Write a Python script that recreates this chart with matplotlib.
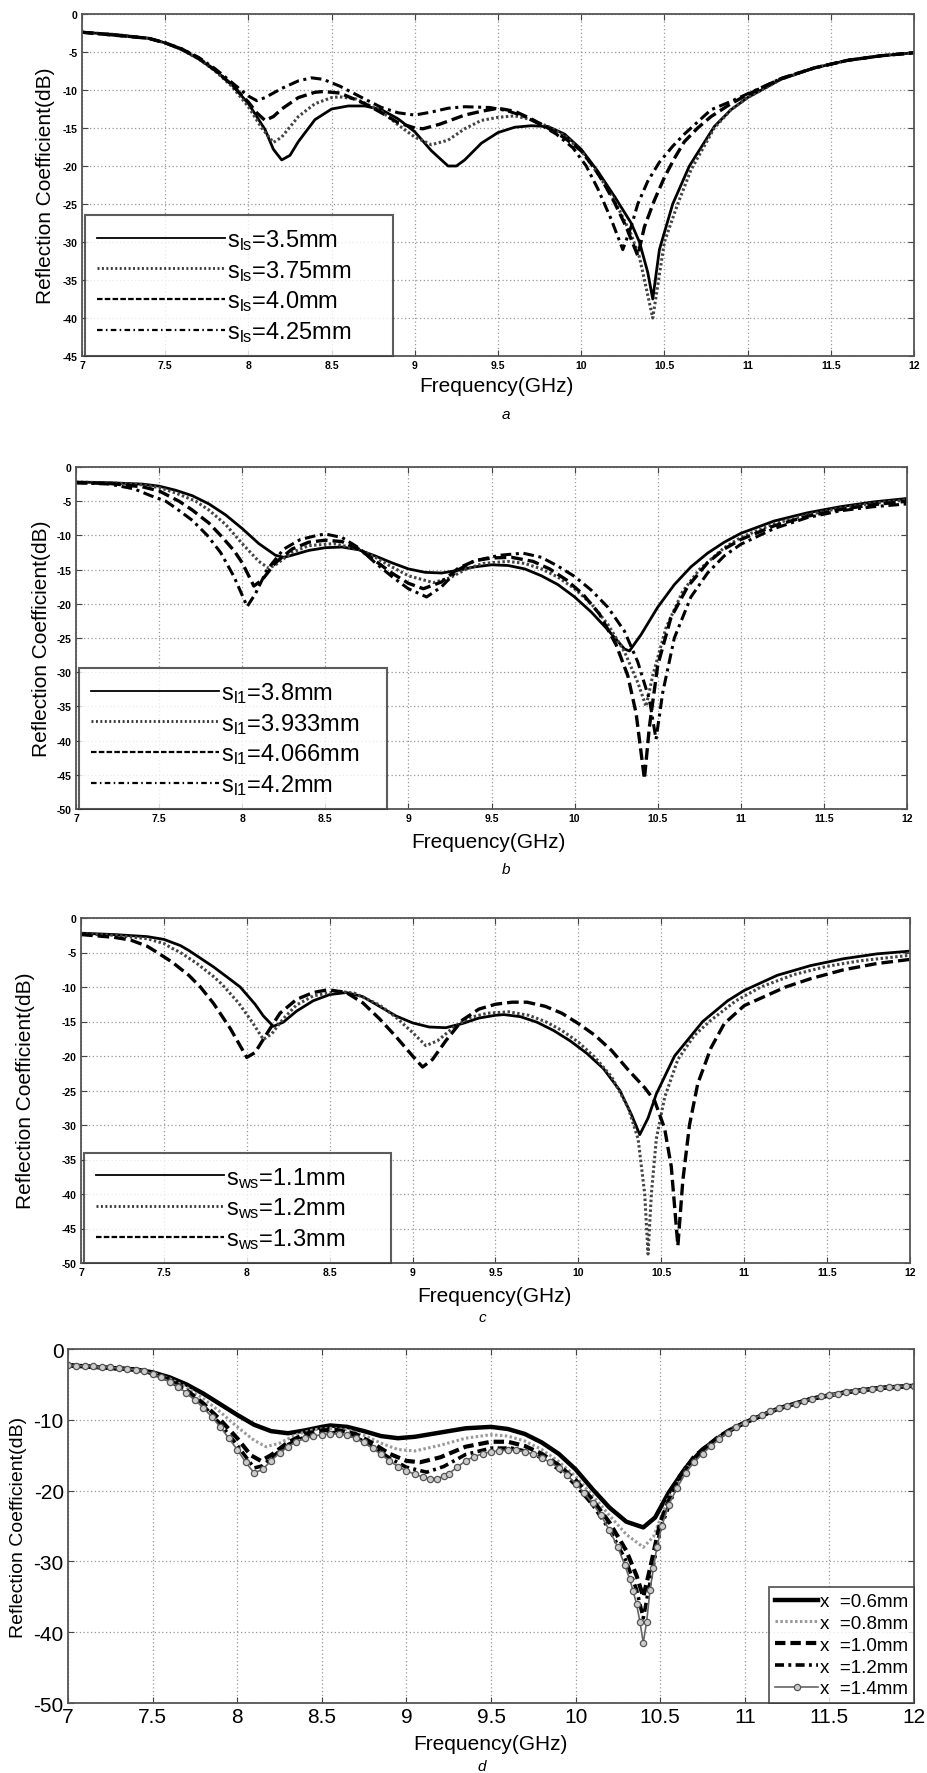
import matplotlib
matplotlib.use('Agg')
import matplotlib.pyplot as plt
from matplotlib.lines import Line2D
from matplotlib.ticker import MultipleLocator, FormatStrFormatter

# ---------------- panel a : slot s_ls ----------------
a_f1 = [7.0, 7.2, 7.4, 7.5, 7.6, 7.7, 7.8, 7.9, 8.0, 8.1, 8.15, 8.2, 8.25, 8.3, 8.4, 8.5, 8.6, 8.7, 8.8, 8.9,
        9.0, 9.1, 9.2, 9.25, 9.3, 9.4, 9.5, 9.6, 9.7, 9.8, 9.9, 10.0, 10.1, 10.2, 10.3, 10.35, 10.4, 10.43,
        10.47, 10.55, 10.65, 10.8, 10.9, 11.0, 11.2, 11.4, 11.6, 11.8, 12.0]
a_s1 = [-2.4, -2.7, -3.2, -3.8, -4.7, -5.9, -7.4, -9.3, -11.8, -15.2, -17.8, -19.2, -18.6, -16.8, -13.9, -12.5,
        -12.1, -12.1, -12.6, -13.8, -15.5, -18.0, -20.0, -20.0, -19.2, -17.0, -15.6, -14.9, -14.7, -14.8, -15.8,
        -17.8, -20.7, -24.0, -27.5, -30.0, -34.0, -37.5, -31.0, -25.0, -20.0, -14.8, -12.6, -11.0, -8.6, -7.1,
        -6.1, -5.5, -5.1]
a_f2 = [7.0, 7.2, 7.4, 7.5, 7.6, 7.7, 7.8, 7.9, 8.0, 8.08, 8.15, 8.2, 8.3, 8.4, 8.5, 8.55, 8.65, 8.8, 8.9, 9.0,
        9.1, 9.2, 9.3, 9.4, 9.5, 9.6, 9.7, 9.8, 9.9, 10.0, 10.1, 10.2, 10.3, 10.35, 10.43, 10.5, 10.58,
        10.66, 10.8, 10.9, 11.0, 11.2, 11.4, 11.6, 11.8, 12.0]
a_s2 = [-2.4, -2.7, -3.2, -3.8, -4.7, -5.9, -7.5, -9.5, -12.2, -15.0, -16.9, -16.2, -13.5, -11.8, -11.0, -10.9,
        -11.2, -12.8, -14.6, -16.2, -17.2, -16.6, -15.1, -14.0, -13.6, -13.4, -13.9, -14.8, -16.0, -18.0, -21.0,
        -24.5, -29.0, -32.0, -40.0, -30.0, -25.0, -20.5, -15.0, -12.6, -11.0, -8.6, -7.1, -6.1, -5.5, -5.1]
a_f3 = [7.0, 7.4, 7.5, 7.6, 7.7, 7.8, 7.9, 8.0, 8.05, 8.1, 8.15, 8.2, 8.3, 8.4, 8.45, 8.55, 8.7, 8.8, 8.9, 9.0,
        9.05, 9.15, 9.3, 9.4, 9.5, 9.6, 9.7, 9.8, 9.9, 10.0, 10.07, 10.13, 10.2, 10.27, 10.34, 10.38, 10.44,
        10.5, 10.56, 10.62, 10.7, 10.78, 10.9, 11.0, 11.2, 11.4, 11.6, 11.8, 12.0]
a_s3 = [-2.4, -3.2, -3.8, -4.6, -5.8, -7.4, -9.3, -11.6, -13.0, -14.0, -13.5, -12.5, -11.0, -10.3, -10.2, -10.4,
        -11.8, -13.0, -14.3, -15.0, -15.1, -14.5, -13.3, -12.8, -12.4, -12.8, -13.8, -15.0, -16.3, -18.0, -20.0,
        -22.0, -24.8, -28.0, -31.8, -28.0, -24.5, -21.5, -19.0, -16.8, -15.0, -13.5, -11.8, -10.6, -8.5, -7.1,
        -6.1, -5.5, -5.1]
a_f4 = [7.0, 7.4, 7.5, 7.6, 7.7, 7.8, 7.9, 8.0, 8.05, 8.1, 8.2, 8.3, 8.38, 8.45, 8.55, 8.7, 8.8, 8.9, 9.0, 9.1,
        9.2, 9.3, 9.45, 9.55, 9.65, 9.75, 9.85, 9.95, 10.03, 10.1, 10.18, 10.25, 10.3, 10.34, 10.4, 10.47,
        10.55, 10.62, 10.7, 10.78, 10.9, 11.0, 11.2, 11.4, 11.6, 11.8, 12.0]
a_s4 = [-2.4, -3.2, -3.8, -4.6, -5.7, -7.2, -9.0, -10.8, -11.4, -11.0, -9.8, -8.8, -8.4, -8.6, -9.5, -11.2,
        -12.3, -13.0, -13.3, -12.9, -12.4, -12.2, -12.3, -12.7, -13.4, -14.5, -15.8, -17.6, -20.0, -23.0, -27.0,
        -31.0, -28.0, -25.0, -22.0, -19.5, -17.4, -15.8, -14.2, -12.6, -11.5, -10.5, -8.5, -7.1, -6.1, -5.5, -5.1]

# ---------------- panel b : slot s_l1 ----------------
b_f1 = [7.0, 7.2, 7.4, 7.5, 7.6, 7.7, 7.8, 7.9, 8.0, 8.1, 8.2, 8.25, 8.3, 8.4, 8.5, 8.6, 8.7, 8.8, 8.9, 9.0,
        9.1, 9.2, 9.3, 9.4, 9.5, 9.6, 9.7, 9.8, 9.9, 10.0, 10.1, 10.2, 10.3, 10.33, 10.4, 10.5, 10.6, 10.7,
        10.8, 10.9, 11.0, 11.2, 11.4, 11.6, 11.8, 12.0]
b_s1 = [-2.2, -2.3, -2.5, -2.8, -3.4, -4.2, -5.4, -7.0, -9.0, -11.2, -12.9, -13.2, -12.9, -12.2, -11.8, -11.7,
        -12.1, -13.0, -14.0, -14.9, -15.4, -15.5, -15.1, -14.6, -14.3, -14.4, -14.9, -15.9, -17.2, -19.0, -21.2,
        -23.8, -26.6, -26.9, -24.5, -20.5, -17.2, -14.6, -12.6, -11.0, -9.7, -7.9, -6.7, -5.8, -5.1, -4.6]
b_f2 = [7.0, 7.2, 7.4, 7.5, 7.6, 7.72, 7.8, 7.9, 7.95, 8.0, 8.1, 8.16, 8.2, 8.3, 8.4, 8.55, 8.7, 8.8, 8.9, 9.0,
        9.15, 9.25, 9.35, 9.45, 9.6, 9.7, 9.8, 9.9, 10.0, 10.1, 10.2, 10.3, 10.38, 10.43, 10.47, 10.55, 10.65,
        10.75, 10.9, 11.0, 11.2, 11.4, 11.6, 11.8, 12.0]
b_s2 = [-2.2, -2.3, -2.6, -3.0, -3.8, -5.0, -6.3, -8.4, -9.8, -11.2, -13.8, -14.8, -14.3, -12.5, -11.5, -11.2,
        -12.0, -13.2, -14.6, -15.9, -16.9, -16.2, -14.9, -14.1, -13.8, -14.1, -14.9, -16.1, -17.8, -20.0, -23.0,
        -27.0, -31.5, -35.0, -30.5, -23.5, -18.2, -15.0, -11.8, -10.3, -8.3, -7.0, -6.0, -5.3, -4.8]
b_f3 = [7.0, 7.2, 7.4, 7.5, 7.62, 7.7, 7.8, 7.87, 7.95, 8.0, 8.07, 8.12, 8.2, 8.3, 8.4, 8.5, 8.6, 8.7, 8.8, 8.9,
        9.0, 9.09, 9.2, 9.3, 9.4, 9.5, 9.62, 9.75, 9.85, 9.95, 10.05, 10.15, 10.25, 10.32, 10.37, 10.42, 10.45,
        10.5, 10.58, 10.68, 10.8, 10.9, 11.0, 11.2, 11.4, 11.6, 11.8, 12.0]
b_s3 = [-2.3, -2.4, -2.9, -3.5, -5.0, -6.3, -8.2, -10.0, -12.2, -14.0, -17.4, -16.5, -14.0, -12.0, -11.0, -10.7,
        -10.9, -12.0, -13.7, -15.5, -17.0, -17.8, -16.8, -14.8, -13.7, -13.3, -13.2, -13.8, -14.9, -16.5, -18.6,
        -21.5, -26.0, -30.5, -36.0, -45.6, -38.0, -29.0, -22.0, -17.5, -14.0, -12.0, -10.6, -8.6, -7.2, -6.2,
        -5.5, -5.0]
b_f4 = [7.0, 7.2, 7.35, 7.45, 7.54, 7.6, 7.7, 7.79, 7.87, 7.95, 8.03, 8.08, 8.15, 8.25, 8.35, 8.45, 8.5, 8.6,
        8.7, 8.8, 8.9, 9.0, 9.11, 9.2, 9.3, 9.4, 9.55, 9.69, 9.8, 9.9, 10.0, 10.1, 10.2, 10.3, 10.38, 10.45,
        10.49, 10.53, 10.6, 10.7, 10.8, 10.9, 11.0, 11.2, 11.4, 11.6, 11.8, 12.0]
b_s4 = [-2.3, -2.5, -3.2, -4.2, -5.0, -6.0, -7.8, -10.0, -12.5, -16.0, -20.4, -18.5, -15.0, -12.0, -10.6, -10.0,
        -9.8, -10.3, -11.8, -14.0, -16.0, -17.8, -19.0, -17.5, -15.0, -13.7, -12.9, -12.6, -13.2, -14.5, -16.0,
        -18.0, -20.5, -24.0, -28.5, -34.0, -39.8, -33.0, -25.0, -19.0, -15.5, -13.0, -11.3, -9.0, -7.4, -6.4,
        -5.8, -5.4]

# ---------------- panel c : slot s_ws ----------------
c_f1 = [7.0, 7.2, 7.4, 7.5, 7.6, 7.65, 7.7, 7.8, 7.9, 7.96, 8.05, 8.1, 8.16, 8.22, 8.3, 8.4, 8.5, 8.6, 8.7, 8.8,
        8.9, 9.0, 9.1, 9.2, 9.3, 9.4, 9.5, 9.55, 9.65, 9.75, 9.85, 9.95, 10.05, 10.15, 10.25, 10.32, 10.37,
        10.42, 10.47, 10.58, 10.75, 10.9, 11.0, 11.2, 11.4, 11.6, 11.8, 12.0]
c_s1 = [-2.2, -2.4, -2.7, -3.1, -4.0, -4.7, -5.5, -7.1, -8.9, -10.0, -12.5, -14.2, -15.7, -15.1, -13.5, -12.0,
        -11.1, -10.8, -11.4, -12.8, -14.2, -15.2, -15.8, -15.9, -15.3, -14.5, -14.1, -14.0, -14.3, -15.1, -16.3,
        -17.8, -19.6, -21.8, -25.0, -28.5, -31.4, -29.0, -25.5, -20.0, -15.0, -12.0, -10.5, -8.3, -6.9, -5.9,
        -5.2, -4.8]
c_f2 = [7.0, 7.2, 7.4, 7.5, 7.55, 7.6, 7.7, 7.8, 7.85, 7.95, 8.03, 8.1, 8.15, 8.22, 8.3, 8.4, 8.55, 8.65, 8.8,
        8.9, 9.0, 9.08, 9.15, 9.25, 9.35, 9.45, 9.58, 9.7, 9.8, 9.9, 10.0, 10.1, 10.2, 10.3, 10.36, 10.4, 10.42,
        10.44, 10.47, 10.52, 10.6, 10.7, 10.8, 10.95, 11.1, 11.3, 11.5, 11.7, 12.0]
c_s2 = [-2.3, -2.5, -3.0, -3.7, -4.4, -5.0, -6.6, -8.5, -9.6, -12.3, -15.0, -17.6, -16.8, -14.6, -12.6, -11.3,
        -10.6, -10.9, -12.6, -14.4, -16.6, -18.5, -17.8, -15.8, -14.4, -13.8, -13.6, -14.1, -15.0, -16.3, -18.0,
        -20.2, -23.0, -27.5, -32.0, -40.0, -48.7, -40.0, -32.0, -26.0, -20.5, -17.0, -14.8, -12.0, -10.0, -8.2,
        -7.0, -6.2, -5.4]
c_f3 = [7.0, 7.2, 7.3, 7.4, 7.46, 7.55, 7.65, 7.72, 7.8, 7.9, 8.0, 8.05, 8.12, 8.2, 8.3, 8.4, 8.49, 8.6, 8.7, 8.8,
        8.9, 9.0, 9.06, 9.12, 9.2, 9.3, 9.4, 9.5, 9.6, 9.69, 9.8, 9.9, 10.0, 10.1, 10.2, 10.3, 10.4, 10.46,
        10.52, 10.56, 10.6, 10.63, 10.67, 10.72, 10.8, 10.88, 11.0, 11.25, 11.4, 11.6, 11.8, 12.0]
c_s3 = [-2.4, -2.8, -3.2, -4.1, -5.0, -6.4, -8.3, -10.0, -12.4, -16.0, -20.2, -19.5, -16.8, -13.8, -11.8, -10.8,
        -10.4, -10.8, -12.3, -14.6, -17.2, -20.0, -21.6, -20.5, -17.8, -14.8, -13.2, -12.5, -12.2, -12.2, -12.8,
        -13.8, -15.3, -17.0, -19.2, -22.0, -24.6, -26.5, -30.5, -36.0, -47.5, -38.0, -30.0, -24.0, -18.8, -15.3,
        -12.7, -10.0, -8.8, -7.5, -6.6, -6.0]

# ---------------- panel d : x ----------------
d_f1 = [7.0, 7.2, 7.4, 7.5, 7.6, 7.7, 7.8, 7.9, 8.0, 8.05, 8.1, 8.2, 8.3, 8.4, 8.5, 8.55, 8.65, 8.75, 8.85, 8.95,
        9.05, 9.2, 9.35, 9.5, 9.6, 9.7, 9.8, 9.9, 10.0, 10.1, 10.2, 10.3, 10.4, 10.47, 10.55, 10.65, 10.75, 10.9,
        11.0, 11.2, 11.4, 11.6, 11.8, 12.0]
d_s1 = [-2.3, -2.6, -2.9, -3.3, -4.0, -5.0, -6.3, -7.8, -9.3, -10.0, -10.7, -11.6, -11.9, -11.5, -11.0, -10.8,
        -11.0, -11.6, -12.3, -12.6, -12.4, -11.8, -11.2, -11.0, -11.3, -12.0, -13.2, -14.8, -17.0, -19.8, -22.4,
        -24.4, -25.2, -23.8, -20.3, -16.8, -14.2, -11.6, -10.4, -8.4, -7.0, -6.1, -5.5, -5.2]
d_f2 = [7.0, 7.4, 7.5, 7.6, 7.7, 7.8, 7.9, 8.0, 8.1, 8.17, 8.25, 8.35, 8.45, 8.55, 8.65, 8.75, 8.85, 8.95, 9.05,
        9.2, 9.35, 9.5, 9.6, 9.7, 9.8, 9.9, 10.0, 10.1, 10.2, 10.3, 10.4, 10.46, 10.55, 10.65, 10.75, 10.9, 11.0,
        11.2, 11.4, 11.6, 11.8, 12.0]
d_s2 = [-2.3, -2.9, -3.4, -4.2, -5.4, -7.0, -8.9, -11.0, -12.9, -13.8, -13.3, -12.1, -11.4, -11.2, -11.4, -12.2,
        -13.3, -14.2, -14.4, -13.6, -12.6, -12.1, -12.3, -13.0, -14.2, -15.9, -18.0, -20.7, -23.5, -26.2, -28.0,
        -26.5, -21.0, -17.0, -14.3, -11.6, -10.4, -8.4, -7.0, -6.1, -5.5, -5.2]
d_f3 = [7.0, 7.4, 7.5, 7.6, 7.7, 7.8, 7.9, 8.0, 8.08, 8.14, 8.2, 8.3, 8.4, 8.5, 8.58, 8.7, 8.8, 8.9, 9.0, 9.08,
        9.2, 9.35, 9.5, 9.6, 9.7, 9.8, 9.9, 10.0, 10.1, 10.2, 10.3, 10.36, 10.4, 10.44, 10.5, 10.6, 10.7, 10.85,
        11.0, 11.2, 11.4, 11.6, 11.8, 12.0]
d_s3 = [-2.3, -2.9, -3.4, -4.4, -5.8, -7.7, -10.0, -12.6, -15.0, -15.8, -15.0, -13.2, -12.0, -11.5, -11.4, -12.0,
        -13.3, -14.8, -15.8, -16.0, -15.3, -13.8, -13.1, -13.1, -13.7, -14.8, -16.4, -18.5, -21.3, -24.5, -28.5,
        -32.0, -35.0, -31.0, -24.5, -18.5, -15.2, -12.3, -10.4, -8.4, -7.0, -6.1, -5.5, -5.2]
d_f4 = [7.0, 7.4, 7.5, 7.6, 7.7, 7.8, 7.9, 8.0, 8.1, 8.15, 8.22, 8.3, 8.4, 8.5, 8.58, 8.7, 8.8, 8.9, 9.0, 9.12,
        9.22, 9.35, 9.5, 9.62, 9.72, 9.8, 9.9, 10.0, 10.1, 10.2, 10.3, 10.36, 10.4, 10.44, 10.5, 10.6, 10.7,
        10.85, 11.0, 11.2, 11.4, 11.6, 11.8, 12.0]
d_s4 = [-2.3, -2.9, -3.5, -4.5, -6.0, -8.0, -10.6, -13.6, -16.8, -16.5, -15.0, -13.5, -12.4, -11.9, -11.8, -12.4,
        -13.8, -15.4, -16.7, -17.4, -16.6, -14.9, -14.0, -14.0, -14.5, -15.4, -17.0, -19.2, -22.0, -25.5, -30.0,
        -34.0, -38.0, -33.0, -25.5, -19.0, -15.5, -12.4, -10.4, -8.4, -7.0, -6.1, -5.5, -5.2]
d_f5 = [7.0, 7.05, 7.1, 7.15, 7.2, 7.25, 7.3, 7.35, 7.4, 7.45, 7.5, 7.55, 7.6, 7.65, 7.7, 7.75, 7.8, 7.85, 7.9,
        7.95, 8.0, 8.05, 8.1, 8.15, 8.2, 8.25, 8.3, 8.35, 8.4, 8.45, 8.5, 8.55, 8.6, 8.65, 8.7, 8.75, 8.8, 8.85,
        8.9, 8.95, 9.0, 9.05, 9.1, 9.14, 9.18, 9.22, 9.25, 9.3, 9.35, 9.4, 9.45, 9.5, 9.55, 9.6, 9.65, 9.7, 9.75,
        9.8, 9.85, 9.9, 9.95, 10.0, 10.05, 10.1, 10.15, 10.2, 10.25, 10.29, 10.32, 10.34, 10.36, 10.38, 10.4,
        10.42, 10.44, 10.46, 10.48, 10.51, 10.55, 10.6, 10.65, 10.7, 10.75, 10.8, 10.85, 10.9, 10.95, 11.0,
        11.05, 11.1, 11.15, 11.2, 11.25, 11.3, 11.35, 11.4, 11.45, 11.5, 11.55, 11.6, 11.65, 11.7, 11.75, 11.8,
        11.85, 11.9, 11.95, 12.0]
d_s5 = [-2.3, -2.35, -2.4, -2.45, -2.5, -2.6, -2.7, -2.8, -2.9, -3.1, -3.5, -4.0, -4.6, -5.3, -6.2, -7.2, -8.3,
        -9.6, -11.0, -12.6, -14.2, -16.0, -17.5, -17.0, -15.8, -14.7, -13.8, -13.1, -12.6, -12.3, -12.1, -12.0,
        -12.0, -12.2, -12.6, -13.2, -14.0, -14.9, -15.8, -16.6, -17.2, -17.7, -18.1, -18.3, -18.3, -18.0, -17.6,
        -16.7, -15.8, -15.2, -14.8, -14.5, -14.4, -14.3, -14.3, -14.5, -14.9, -15.4, -16.0, -16.8, -17.8, -19.0,
        -20.3, -21.8, -23.5, -25.6, -28.0, -30.5, -32.5, -34.2, -36.0, -38.5, -41.5, -38.5, -34.0, -31.0, -28.0,
        -25.0, -22.0, -19.6, -17.5, -16.0, -14.8, -13.7, -12.7, -11.8, -11.0, -10.4, -9.8, -9.3, -8.8, -8.4,
        -8.0, -7.7, -7.3, -7.0, -6.7, -6.5, -6.3, -6.1, -5.9, -5.8, -5.6, -5.5, -5.4, -5.3, -5.25, -5.2]

labels_a = [r'$\mathregular{s_{ls}}$=3.5mm', r'$\mathregular{s_{ls}}$=3.75mm',
            r'$\mathregular{s_{ls}}$=4.0mm', r'$\mathregular{s_{ls}}$=4.25mm']
labels_b = [r'$\mathregular{s_{l1}}$=3.8mm', r'$\mathregular{s_{l1}}$=3.933mm',
            r'$\mathregular{s_{l1}}$=4.066mm', r'$\mathregular{s_{l1}}$=4.2mm']
labels_c = [r'$\mathregular{s_{ws}}$=1.1mm', r'$\mathregular{s_{ws}}$=1.2mm', r'$\mathregular{s_{ws}}$=1.3mm']
labels_d = ['x  =0.6mm', 'x  =0.8mm', 'x  =1.0mm', 'x  =1.2mm', 'x  =1.4mm']

W, H = 928, 1774
plt.rcParams['font.family'] = ['Liberation Sans', 'DejaVu Sans']
plt.rcParams['mathtext.fontset'] = 'custom'
plt.rcParams['mathtext.rm'] = 'Liberation Sans'

# line styles for the panels with 3-4 curves (a, b, c)
STYLES_ABC = [
    dict(color='black', lw=2.0, ls='-'),
    dict(color='#444444', lw=2.2, ls=(0, (0.8, 0.8))),
    dict(color='black', lw=2.4, ls=(0, (3.5, 1.5))),
    dict(color='black', lw=2.2, ls=(0, (3.5, 1.5, 1, 1.5))),
]
# thinner versions for the legend handles (the figure legend uses fine patterns)
LEGEND_ABC = [
    dict(color='black', lw=1.3, ls='-'),
    dict(color='#333333', lw=2.0, ls=(0, (0.7, 0.9))),
    dict(color='black', lw=1.6, ls=(0, (2.5, 1.0))),
    dict(color='black', lw=1.6, ls=(0, (2.5, 1.5, 0.7, 1.5))),
]
STYLES_D = [
    dict(color='black', lw=3.2, ls='-'),
    dict(color='#999999', lw=2.2, ls=(0, (0.8, 0.8))),
    dict(color='black', lw=3.0, ls=(0, (2.5, 1.2))),
    dict(color='black', lw=2.6, ls=(0, (2.5, 1.2, 0.8, 1.2))),
    dict(color='#666666', lw=1.2, ls='-', marker='o', ms=4.5, mfc='#cccccc', mec='#555555', mew=0.9),
]


def px_rect(left, top, right, bottom):
    return [left / W, 1 - bottom / H, (right - left) / W, (bottom - top) / H]


def draw_panel(fig, box, curves, styles, y_low, y_step, big=False):
    ax = fig.add_axes(px_rect(*box))
    for (f, s), st in zip(curves, styles):
        ax.plot(f, s, **st)
    ax.set_xlim(7, 12)
    ax.set_ylim(y_low, 0)
    ax.xaxis.set_major_locator(MultipleLocator(0.5))
    ax.yaxis.set_major_locator(MultipleLocator(y_step))
    ax.xaxis.set_major_formatter(FormatStrFormatter('%g'))
    ax.yaxis.set_major_formatter(FormatStrFormatter('%g'))
    ax.grid(True, color='#999999', ls=(0, (1, 2)), lw=0.9)
    ax.tick_params(direction='in', top=True, right=True, length=4, color='#444444')
    for sp in ax.spines.values():
        sp.set_color('#555555')
        sp.set_linewidth(1.3)
    if big:
        ax.tick_params(labelsize=15, pad=3)
    else:
        ax.tick_params(labelsize=7.5, pad=3)
        for t in ax.get_xticklabels() + ax.get_yticklabels():
            t.set_fontweight('bold')
    return ax


def abc_legend(ax, labels, width):
    handles = [Line2D([], [], **st) for st in LEGEND_ABC[:len(labels)]]
    leg = ax.legend(handles, labels, loc='lower left', bbox_to_anchor=(0.004, 0.0, width, 0.5), mode='expand',
                    fontsize=17, frameon=True, fancybox=False, edgecolor='#333333', handlelength=5.4,
                    handletextpad=0.1, labelspacing=0.25, borderpad=0.5, borderaxespad=0)
    leg.get_frame().set_linewidth(1.5)
    return leg


def main():
    fig = plt.figure(figsize=(W / 100, H / 100), dpi=100)

    # panel a
    ax = draw_panel(fig, (82, 15, 914, 357),
                    [(a_f1, a_s1), (a_f2, a_s2), (a_f3, a_s3), (a_f4, a_s4)],
                    STYLES_ABC, -45, 5)
    abc_legend(ax, labels_a, 0.37)

    # panel b
    ax = draw_panel(fig, (76, 468, 907, 810),
                    [(b_f1, b_s1), (b_f2, b_s2), (b_f3, b_s3), (b_f4, b_s4)],
                    STYLES_ABC, -50, 5)
    abc_legend(ax, labels_b, 0.37)

    # panel c
    ax = draw_panel(fig, (81, 919, 910, 1264),
                    [(c_f1, c_s1), (c_f2, c_s2), (c_f3, c_s3)],
                    STYLES_ABC[:3], -50, 5)
    abc_legend(ax, labels_c, 0.37)

    # panel d
    ax = draw_panel(fig, (68, 1350, 914, 1704),
                    [(d_f1, d_s1), (d_f2, d_s2), (d_f3, d_s3), (d_f4, d_s4), (d_f5, d_s5)],
                    STYLES_D, -50, 10, big=True)
    leg = ax.legend(labels_d, loc='lower right', fontsize=13.5, frameon=True, fancybox=False,
                    edgecolor='#333333', handlelength=2.3, handletextpad=0.1, labelspacing=0.25,
                    borderpad=0.3, borderaxespad=0)
    leg.get_frame().set_linewidth(1.3)

    # axis titles and sub-figure captions placed in pixel coordinates
    texts = [
        (46, 186, 496, 386, 506, 415, 'a', 15),
        (42, 639, 488, 843, 506, 870, 'b', 15),
        (26, 1091, 494, 1296, 482, 1318, 'c', 15),
        (19, 1527, 490, 1745, 482, 1767, 'd', 14),
    ]
    for yx, yy, xx, xy, cx, cy, cap, ysize in texts:
        fig.text(yx / W, 1 - yy / H, 'Reflection Coefficient(dB)', rotation=90, ha='center', va='center',
                 fontsize=ysize)
        fig.text(xx / W, 1 - xy / H, 'Frequency(GHz)', ha='center', va='center', fontsize=15)
        fig.text(cx / W, 1 - cy / H, cap, ha='center', va='center', fontsize=11, style='italic')

    fig.savefig('out.png', dpi=100)


if __name__ == "__main__":
    main()
